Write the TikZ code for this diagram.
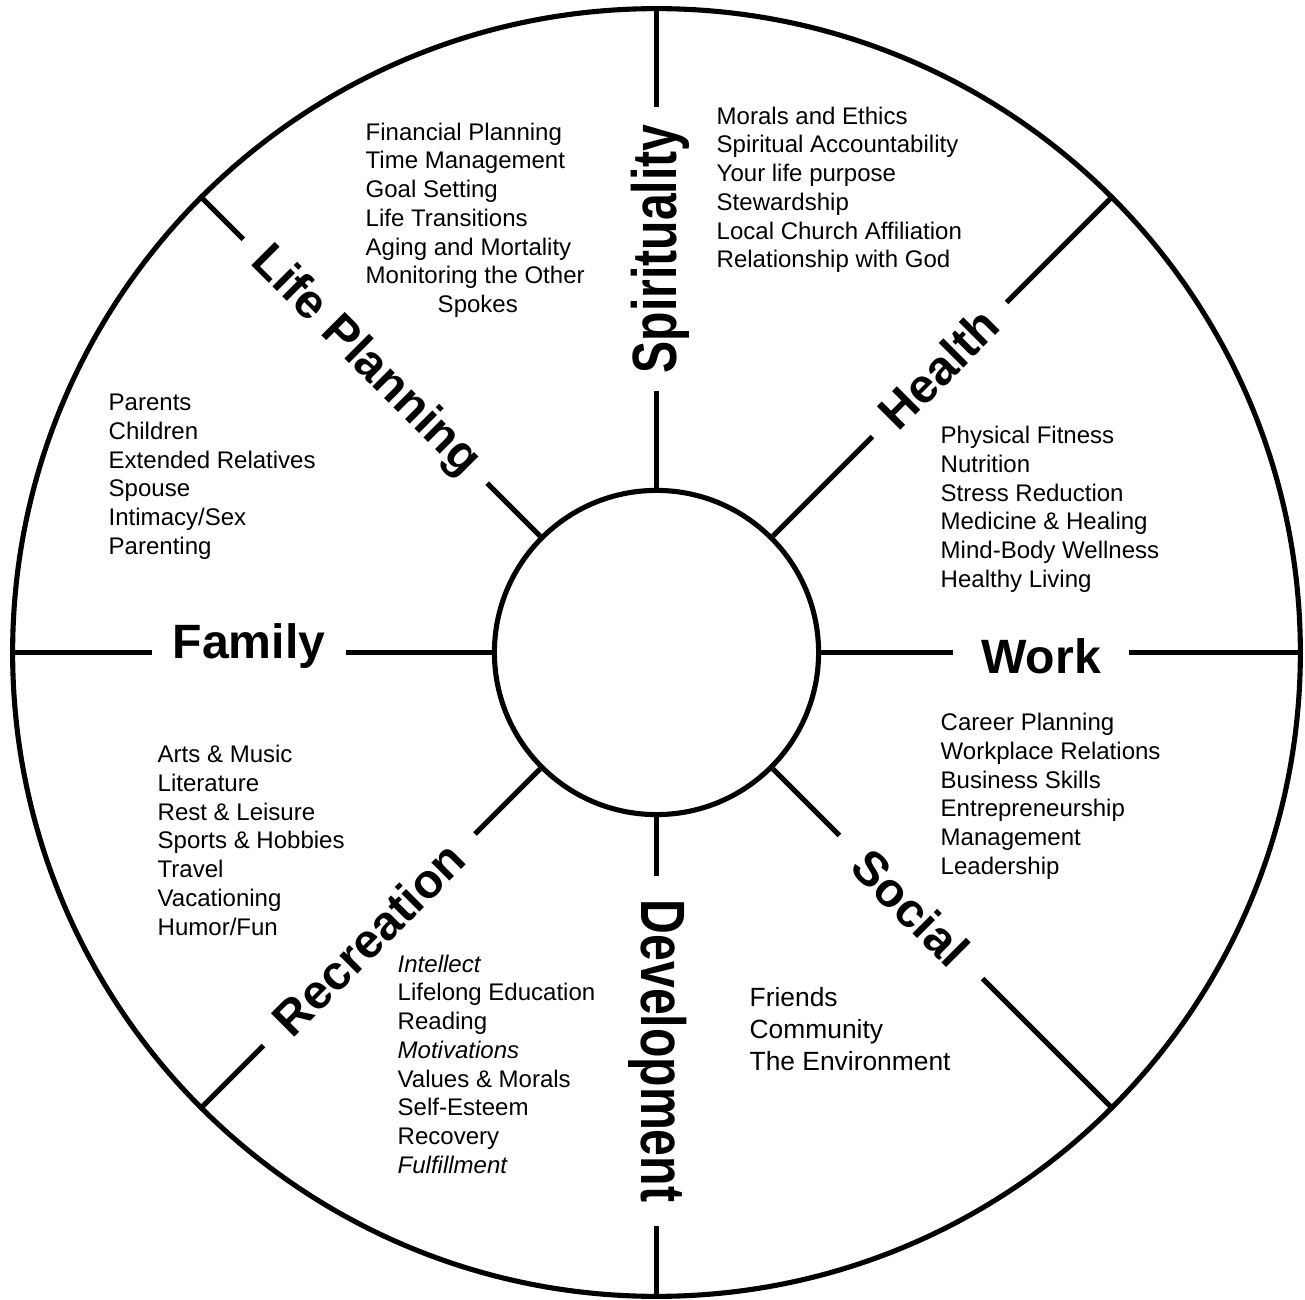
\documentclass[tikz,border=0pt]{standalone}
\usepackage{fontspec}
\setmainfont{Liberation Sans}
\usepackage{graphicx}
\begin{document}
\begin{tikzpicture}[x=0.01cm,y=-0.01cm,
  ring/.style={draw,circle,line width=1.45pt,inner sep=0pt},
  spoke/.style={line width=1.45pt},
  lbl/.style={fill=white,inner ysep=1pt,inner xsep=0.21cm,font=\fontsize{13.7pt}{16pt}\selectfont\bfseries},
  items/.style={anchor=north west,inner sep=0pt,align=left,font=\fontsize{6.83pt}{8.17pt}\selectfont},
  bigitems/.style={anchor=north west,inner sep=0pt,align=left,font=\fontsize{7.5pt}{9.1pt}\selectfont}
]
\useasboundingbox (0,0) rectangle (1305,1300);
\node[ring,minimum size=12.87cm] (rim) at (656.5,652.5) {};
\node[ring,minimum size=3.24cm] (hub) at (656.5,652.5) {};
\foreach \a in {0,45,...,315} \draw[spoke] (hub.\a) -- (rim.\a);
% spoke labels
\node[lbl,rotate=90,inner xsep=0.18cm] (spir) at (660,249) {\scalebox{1}[1.3]{Spirituality}};
\node[lbl,rotate=45] (health) at (938.5,368.5) {Health};
\node[lbl,anchor=base,inner xsep=0.28cm] (work) at (1041,674) {Work};
\node[lbl,rotate=-45,inner xsep=0.3cm] (social) at (910.5,907.5) {Social};
\node[lbl,rotate=-90,inner xsep=0.24cm] (dev) at (658,1051) {\scalebox{1}[1.3]{Development}};
\node[lbl,rotate=45,inner xsep=0.25cm] (rec) at (368.5,939) {Recreation};
\node[lbl,anchor=base] (fam) at (249,659) {Family};
\node[lbl,rotate=-45] (life) at (365,361.5) {Life Planning};
% item lists
\node[items] (lifeitems) at (365,119.4) {\strut Financial Planning\\Time Management\\Goal Setting\\Life Transitions\\Aging and Mortality\\Monitoring the Other\\\hspace*{0.72cm}Spokes};
\node[items] (spiritems) at (716,103.4) {\strut Morals and Ethics\\Spiritual Accountability\\Your life purpose\\Stewardship\\Local Church Affiliation\\Relationship with God};
\node[items] (healthitems) at (940,422.9) {\strut Physical Fitness\\Nutrition\\Stress Reduction\\Medicine \& Healing\\Mind-Body Wellness\\Healthy Living};
\node[items] (workitems) at (940,709.9) {\strut Career Planning\\Workplace Relations\\Business Skills\\Entrepreneurship\\Management\\Leadership};
\node[items] (famitems) at (108,389.9) {\strut Parents\\Children\\Extended Relatives\\Spouse\\Intimacy/Sex\\Parenting};
\node[items] (recitems) at (157,741.9) {\strut Arts \& Music\\Literature\\Rest \& Leisure\\Sports \& Hobbies\\Travel\\Vacationing\\Humor/Fun};
\node[items] (devitems) at (397,951.4) {\strut\textit{Intellect}\\Lifelong Education\\Reading\\\textit{Motivations}\\Values \& Morals\\Self-Esteem\\Recovery\\\textit{Fulfillment}};
\node[bigitems] (socitems) at (749,983.6) {\strut Friends\\Community\\The Environment};
\end{tikzpicture}
\end{document}
